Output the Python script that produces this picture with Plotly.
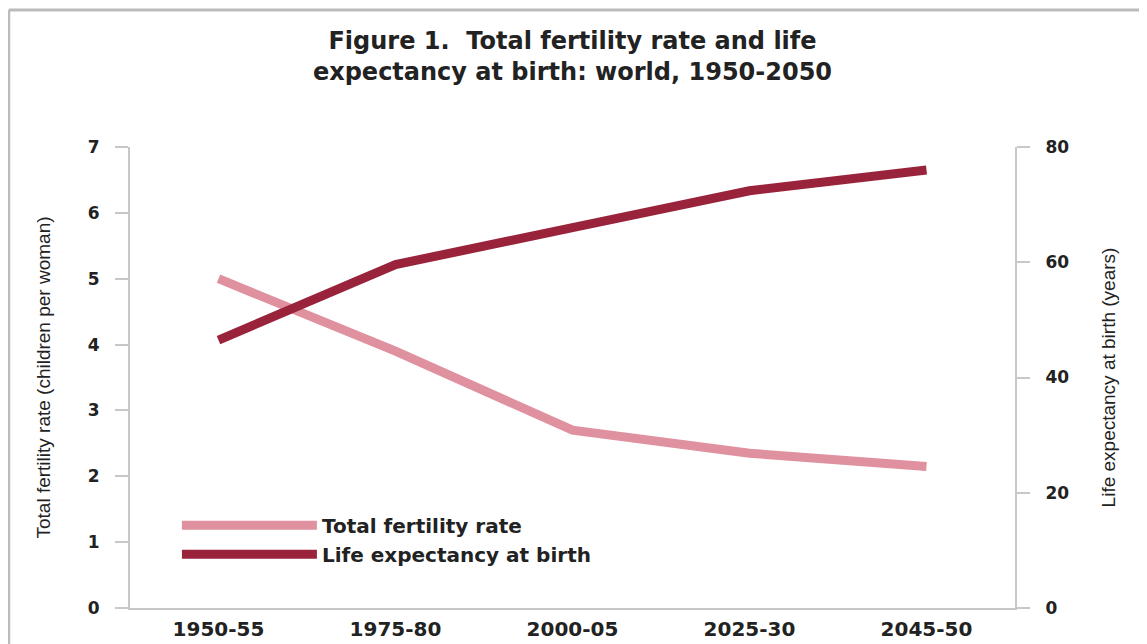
import plotly.graph_objects as go

periods = ["1950-55", "1975-80", "2000-05", "2025-30", "2045-50"]
fertility = [5.0, 3.9, 2.7, 2.35, 2.15]
life_exp = [46.5, 59.6, 66.0, 72.4, 76.0]

pink = "#E0919F"
darkred = "#99233A"
grey_axis = "#C8C8C8"
txt = "#222222"

fig = go.Figure()
fig.add_trace(go.Scatter(x=periods, y=fertility, name="Total fertility rate",
                         mode="lines", line=dict(color=pink, width=9)))
fig.add_trace(go.Scatter(x=periods, y=life_exp, name="Life expectancy at birth",
                         mode="lines", line=dict(color=darkred, width=9), yaxis="y2"))

# page body has an 8px margin, so the figure is a bit smaller than the window
fig.update_layout(
    width=1139, height=636,
    margin=dict(l=122, r=132, t=139, b=36, autoexpand=False),
    paper_bgcolor="white", plot_bgcolor="white",
    title=dict(text="Figure 1.  Total fertility rate and life<br>expectancy at birth: world, 1950-2050",
               x=0.5, xref="paper", xanchor="center", y=0.936, yanchor="middle",
               font=dict(family="DejaVu Sans", size=24, color=txt, weight="bold")),
    xaxis=dict(type="category", range=[-0.5, 4.5], showgrid=False, showline=True,
               linecolor=grey_axis, linewidth=2, ticks="", automargin=False,
               ticklabelstandoff=2,
               tickfont=dict(family="DejaVu Sans", size=20, color=txt, weight="bold")),
    yaxis=dict(range=[0, 7], dtick=1, showgrid=False, zeroline=False, showline=True,
               linecolor=grey_axis, linewidth=2, ticks="outside", ticklen=13,
               tickcolor=grey_axis, tickwidth=2, automargin=False, ticklabelstandoff=12,
               tickfont=dict(family="DejaVu Sans", size=17, color=txt, weight="bold"),
               title=dict(text="Total fertility rate (children per woman)", standoff=32,
                          font=dict(family="Liberation Sans", size=19, color=txt))),
    yaxis2=dict(range=[0, 80], dtick=20, overlaying="y", side="right", showgrid=False,
                zeroline=False, showline=True, linecolor=grey_axis, linewidth=2,
                ticks="outside", ticklen=13, tickcolor=grey_axis, tickwidth=2,
                automargin=False, ticklabelstandoff=12,
                tickfont=dict(family="DejaVu Sans", size=17, color=txt, weight="bold"),
                title=dict(text="Life expectancy at birth (years)", standoff=33,
                           font=dict(family="Liberation Sans", size=19, color=txt))),
    legend=dict(x=0.053, y=0.222, xanchor="left", yanchor="top", itemwidth=135,
                bgcolor="rgba(0,0,0,0)", tracegroupgap=0,
                font=dict(family="DejaVu Sans", size=20, color=txt, weight="bold")),
    showlegend=True,
)

# outer frame of the original figure box
fig.add_shape(type="line", xref="paper", yref="paper", x0=-0.137, x1=1.2, y0=1.297, y1=1.297,
              line=dict(color="#BBBBBB", width=3))
fig.add_shape(type="line", xref="paper", yref="paper", x0=-0.137, x1=-0.137, y0=1.297, y1=-0.1,
              line=dict(color="#BBBBBB", width=3))

fig.write_html("out.html")
